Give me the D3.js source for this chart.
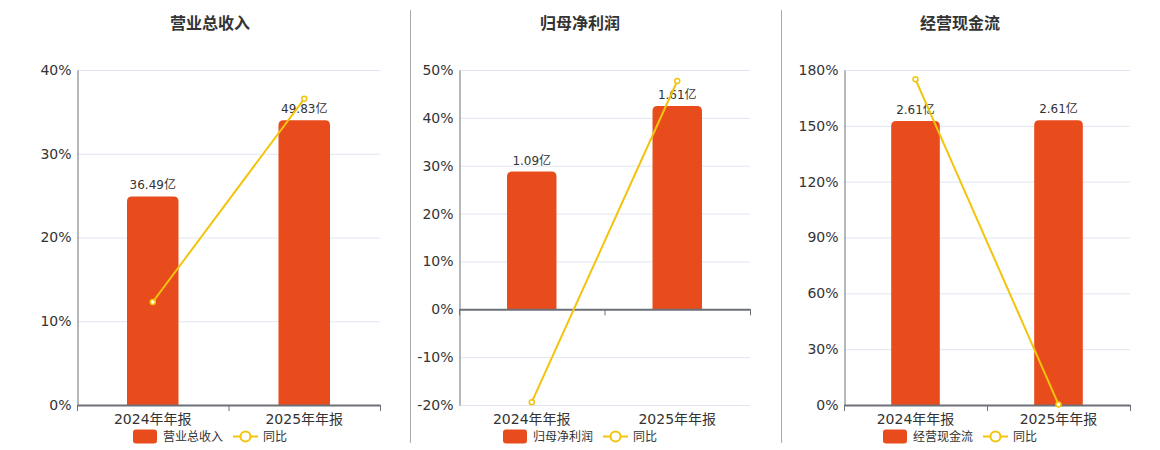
<!DOCTYPE html>
<html lang="zh">
<head>
    <meta charset="UTF-8">
    <title>营业总收入 / 归母净利润 / 经营现金流</title>
    <style>
        body { margin: 0; background: #fff; }
        svg text { font-family: "DejaVu Sans", "Noto Sans CJK SC", sans-serif; }
    </style>
</head>
<body>
<script src="https://d3js.org/d3.v7.min.js"></script>
<div id="chart"></div>
<script>

const width = 1160;
const height = 450;

// Data
const categories = ["2024年年报", "2025年年报"];
const titles = ["营业总收入", "归母净利润", "经营现金流"];
const barValues = [
    [36.49, 49.83],
    [1.09, 1.61],
    [2.608, 2.614]
];
const growthValues = [
    [12.3, 36.56],
    [-19.4, 47.7],
    [175.0, 0.3]
];
const yTicks = [
    [0, 10, 20, 30, 40],
    [-20, -10, 0, 10, 20, 30, 40, 50],
    [0, 30, 60, 90, 120, 150, 180]
];

// Layout of each panel (pixels)
const panels = [
    { left: 77, right: 380, center: 210 },
    { left: 459, right: 750, center: 580 },
    { left: 844, right: 1130, center: 960 }
];
const plotTop = 70, plotBottom = 405;
const barColor = "#e84c1c";
const lineColor = "#f2c40c";

const svg = d3.select("#chart").append("svg")
    .attr("width", width)
    .attr("height", height);

// dividers between panels
[410.5, 781.5].forEach(x => {
    svg.append("line")
        .attr("x1", x).attr("x2", x)
        .attr("y1", 10).attr("y2", 443)
        .attr("stroke", "#aaa")
        .attr("stroke-width", 1);
});

// top-rounded bar path
function barPath(x, y, w, h, r) {
    r = Math.min(r, h);
    return `M${x},${y + h}V${y + r}Q${x},${y} ${x + r},${y}H${x + w - r}Q${x + w},${y} ${x + w},${y + r}V${y + h}Z`;
}

titles.forEach((title, i) => {
    const p = panels[i];
    const ticks = yTicks[i];
    const g = svg.append("g");

    const x = d3.scaleBand()
        .domain(categories)
        .range([p.left, p.right]);

    const y = d3.scaleLinear()
        .domain(d3.extent(ticks))
        .range([plotBottom, plotTop]);

    // bars use a hidden axis: largest bar reaches 85% of the positive range
    const barMax = d3.max(barValues[i]) / 0.85;
    const yBar = d3.scaleLinear()
        .domain([0, barMax])
        .range([y(0), y(d3.max(ticks))]);

    // title
    g.append("text")
        .attr("x", p.center)
        .attr("y", 29)
        .attr("text-anchor", "middle")
        .style("font-size", "16px")
        .style("font-weight", "bold")
        .attr("fill", "#333")
        .text(title);

    // grid lines
    g.selectAll(".grid")
        .data(ticks)
        .enter()
        .append("line")
        .attr("x1", p.left).attr("x2", p.right)
        .attr("y1", d => y(d) + 0.5).attr("y2", d => y(d) + 0.5)
        .attr("stroke", "#e0e6f1");

    // y axis
    const yAxis = d3.axisLeft(y)
        .tickValues(ticks)
        .tickSize(0)
        .tickPadding(6)
        .tickFormat(d => d + "%");
    const ya = g.append("g")
        .attr("transform", `translate(${p.left + 0.5},0)`)
        .call(yAxis);
    ya.select(".domain").attr("stroke", "#6e7079");
    ya.selectAll("text")
        .style("font-size", "14px")
        .attr("fill", "#333");

    // bars
    g.selectAll(".bar")
        .data(barValues[i])
        .enter()
        .append("path")
        .attr("fill", barColor)
        .attr("d", (d, j) => {
            const bw = x.bandwidth() * 0.34;
            const cx = x(categories[j]) + x.bandwidth() / 2;
            const top = yBar(d);
            return barPath(cx - bw / 2, top, bw, yBar(0) - top, 5);
        });

    // bar labels
    g.selectAll(".barlabel")
        .data(barValues[i])
        .enter()
        .append("text")
        .attr("x", (d, j) => x(categories[j]) + x.bandwidth() / 2)
        .attr("y", d => yBar(d) - 7)
        .attr("text-anchor", "middle")
        .style("font-size", "12px")
        .attr("fill", "#333")
        .text(d => d.toFixed(2) + "亿");

    // x axis at zero
    const xAxis = d3.axisBottom(x).tickSize(0).tickPadding(9);
    const xa = g.append("g")
        .attr("transform", `translate(0,${y(0)})`)
        .call(xAxis);
    xa.select(".domain").attr("stroke", "#6e7079").attr("stroke-width", 2);
    xa.selectAll("text")
        .style("font-size", "14px")
        .attr("fill", "#333")
        .attr("transform", `translate(0,${plotBottom - y(0)})`);
    // boundary ticks between categories
    xa.selectAll(".btick")
        .data([p.left, x(categories[1]), p.right])
        .enter()
        .append("line")
        .attr("x1", d => d + 0.5).attr("x2", d => d + 0.5)
        .attr("y1", 0).attr("y2", 6)
        .attr("stroke", "#6e7079");

    // growth line
    const line = d3.line()
        .x((d, j) => x(categories[j]) + x.bandwidth() / 2)
        .y(d => y(d));
    g.append("path")
        .datum(growthValues[i])
        .attr("d", line)
        .attr("fill", "none")
        .attr("stroke", lineColor)
        .attr("stroke-width", 2);
    g.selectAll(".pt")
        .data(growthValues[i])
        .enter()
        .append("circle")
        .attr("cx", (d, j) => x(categories[j]) + x.bandwidth() / 2)
        .attr("cy", d => y(d))
        .attr("r", 2.5)
        .attr("fill", "#fff")
        .attr("stroke", lineColor)
        .attr("stroke-width", 1.5);

    // legend
    const lg = g.append("g").attr("transform", `translate(${p.center - 77},436)`);
    lg.append("rect")
        .attr("x", 0).attr("y", -6.5)
        .attr("width", 24).attr("height", 14)
        .attr("rx", 3)
        .attr("fill", barColor);
    lg.append("text")
        .attr("x", 30).attr("y", 4.5)
        .style("font-size", "12px")
        .attr("fill", "#333")
        .text(title);
    lg.append("line")
        .attr("x1", 100).attr("x2", 125)
        .attr("y1", 0.5).attr("y2", 0.5)
        .attr("stroke", lineColor)
        .attr("stroke-width", 2);
    lg.append("circle")
        .attr("cx", 112.5).attr("cy", 0.5)
        .attr("r", 5)
        .attr("fill", "#fff")
        .attr("stroke", lineColor)
        .attr("stroke-width", 2);
    lg.append("text")
        .attr("x", 130).attr("y", 4.5)
        .style("font-size", "12px")
        .attr("fill", "#333")
        .text("同比");
});

</script>
</body>
</html>
